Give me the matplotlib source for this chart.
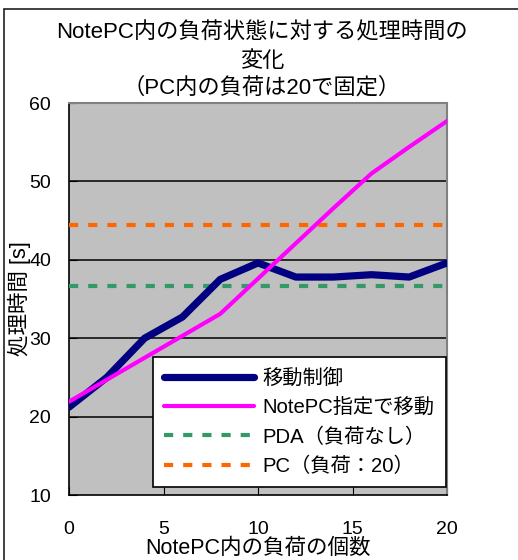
import matplotlib
matplotlib.use('Agg')
from matplotlib import pyplot as plt
from matplotlib.patches import Rectangle

plt.rcParams['font.family'] = ['Liberation Sans', 'Noto Sans CJK JP', 'DejaVu Sans']

# 負荷の個数と処理時間 [s]
load_count = [0, 2, 4, 6, 8, 10, 12, 14, 16, 18, 20]
move_ctrl = [21.2, 25.0, 30.0, 32.7, 37.5, 39.6, 37.8, 37.8, 38.1, 37.8, 39.6]
notepc_move = [21.9, 24.7, 27.5, 30.3, 33.1, 37.6, 42.1, 46.6, 51.0, 54.4, 57.7]
pda_time = 36.6
pc_time = 44.4

title_lines = ['NotePC内の負荷状態に対する処理時間の', '変化', '（PC内の負荷は20で固定）']
labels = ['移動制御', 'NotePC指定で移動', 'PDA（負荷なし）', 'PC（負荷：20）']
xticks = [0, 5, 10, 15, 20]
yticks = [10, 20, 30, 40, 50, 60]

W, H = 518, 560
fig = plt.figure(figsize=(W / 100, H / 100), dpi=100)
ax = fig.add_axes([69 / W, 1 - 495 / H, (447 - 69) / W, (495 - 103) / H])
ax.set_facecolor('#C0C0C0')

# 外枠
fig.patches.append(Rectangle((4 / W, -0.1), 1.2, 1.1 - 9 / H, transform=fig.transFigure,
                             fill=False, edgecolor='#202020', linewidth=1.2))

for y in yticks[1:-1]:
    ax.axhline(y, color='black', linewidth=1.1, zorder=1)

ax.plot(load_count, move_ctrl, color='#000080', linewidth=5.2, label=labels[0],
        solid_capstyle='round', solid_joinstyle='round', zorder=4)
ax.plot(load_count, notepc_move, color='#FF00FF', linewidth=3, label=labels[1],
        solid_capstyle='round', zorder=5)
ax.plot([0, 20], [pda_time, pda_time], color='#339966', linewidth=3, dashes=(2.2, 2.4),
        dash_capstyle='butt', label=labels[2], zorder=3)
ax.plot([0, 20], [pc_time, pc_time], color='#FF6600', linewidth=3, dashes=(2.2, 2.4),
        dash_capstyle='butt', label=labels[3], zorder=3)

ax.set_xlim(0, 20)
ax.set_ylim(10, 60)
ax.set_xticks(xticks)
ax.set_yticks(yticks)
ax.tick_params(axis='both', direction='in', length=6, labelsize=14, colors='black')
ax.tick_params(axis='x', pad=19)
ax.tick_params(axis='y', pad=13)

for side in ['left', 'bottom']:
    ax.spines[side].set_color('black')
    ax.spines[side].set_linewidth(1.2)
for side in ['top', 'right']:
    ax.spines[side].set_color('#808080')
    ax.spines[side].set_linewidth(1.5)

ax.set_xlabel('NotePC内の負荷の個数', fontsize=15.5, va='center')
ax.xaxis.set_label_coords(0.5, -(548 - 495) / (495 - 103))
ax.set_ylabel('処理時間 [s]', fontsize=15.5)
ax.yaxis.set_label_coords((31 - 69) / (447 - 69), 0.5)

for ty, line in zip([33, 61, 88], title_lines):
    fig.text(262 / W, 1 - ty / H, line, ha='center', va='center', fontsize=16)

leg = ax.legend(loc='lower right', bbox_to_anchor=(0.997, 0.02), borderaxespad=0,
                fontsize=14.6, handlelength=4.4, handletextpad=0.45, labelspacing=0.5,
                fancybox=False, framealpha=1, edgecolor='black', borderpad=0.55)
leg.get_frame().set_linewidth(1.2)

fig.savefig('out.png', dpi=100)
